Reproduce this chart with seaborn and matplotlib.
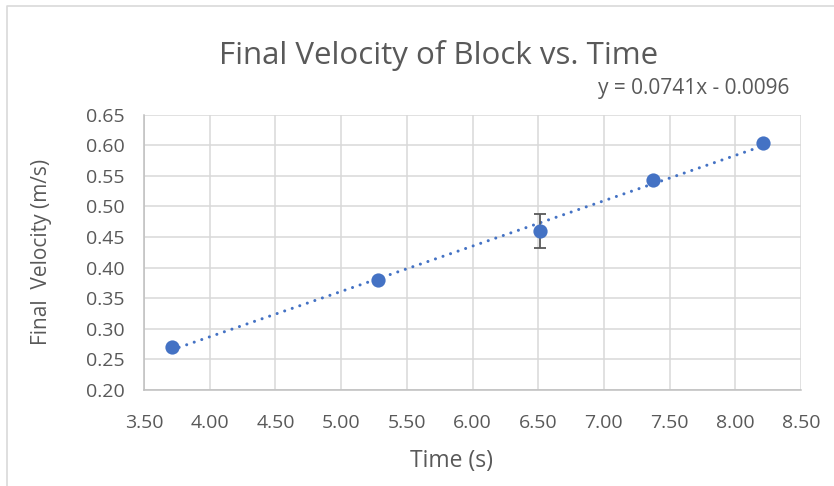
import numpy as np
import pandas as pd
import seaborn as sns
import matplotlib.pyplot as plt
from matplotlib.lines import Line2D

# values
time_s = [3.71, 5.28, 6.51, 7.37, 8.21]
velocity = [0.271, 0.379, 0.460, 0.543, 0.603]
vel_err = [0.0, 0.0, 0.028, 0.0, 0.0]
x_ticks = [3.50, 4.00, 4.50, 5.00, 5.50, 6.00, 6.50, 7.00, 7.50, 8.00, 8.50]
y_ticks = [0.20, 0.25, 0.30, 0.35, 0.40, 0.45, 0.50, 0.55, 0.60, 0.65]
equation = 'y = 0.0741x - 0.0096'

BLUE = '#4472C4'
TXT = '#595959'
GRID = '#d9d9d9'

sns.set_style('white')
plt.rcParams['font.family'] = ['Open Sans', 'DejaVu Sans']

df = pd.DataFrame({'time': time_s, 'vel': velocity, 'err': vel_err})

fig = plt.figure(figsize=(8.34, 4.86), dpi=100)
ax = fig.add_axes([144 / 834, 1 - 390 / 486, 657 / 834, 275.3 / 486])

# linear trendline, dotted
sns.regplot(
    data=df, x='time', y='vel', ax=ax, scatter=False, ci=None, truncate=True,
    line_kws=dict(color=BLUE, lw=2.2, linestyle=(0, (0.01, 2.6)),
                  dash_capstyle='round', zorder=3)
    )

eb = df[df['err'] > 0]
ax.errorbar(
    eb['time'], eb['vel'], yerr=eb['err'], fmt='none', ecolor=TXT,
    elinewidth=1.3, capsize=4.3, capthick=1.3, zorder=4
    )

sns.scatterplot(
    data=df, x='time', y='vel', ax=ax, s=105, color=BLUE,
    edgecolor=BLUE, linewidth=0, zorder=5
    )

ax.set_xlim(3.5, 8.5)
ax.set_ylim(0.2, 0.65)
ax.set_xticks(x_ticks)
ax.set_yticks(y_ticks)
ax.set_xticklabels([f'{t:.2f}' for t in x_ticks])
ax.set_yticklabels([f'{t:.2f}' for t in y_ticks])
ax.grid(True, color=GRID, lw=1.1)
ax.set_axisbelow(True)
for side in ('top', 'right'):
    ax.spines[side].set_visible(False)
for side in ('left', 'bottom'):
    ax.spines[side].set_color('#bfbfbf')
    ax.spines[side].set_linewidth(1.1)
ax.tick_params(axis='both', colors='#bfbfbf', labelcolor=TXT,
               labelsize=14, length=5, width=1.1, direction='out')
ax.tick_params(axis='y', pad=9)
ax.tick_params(axis='x', pad=12)
ax.set_xlabel('')
ax.set_ylabel('')

fig.text(438.5 / 834, 1 - 64 / 486, 'Final Velocity of Block vs. Time',
         ha='center', va='baseline', fontsize=22.5, color=TXT)
fig.text(789 / 834, 1 - 94 / 486, equation,
         ha='right', va='baseline', fontsize=15, color=TXT)
fig.text(451 / 834, 1 - 467 / 486, 'Time (s)',
         ha='center', va='baseline', fontsize=16.5, color=TXT)
fig.text(42 / 834, 1 - 252 / 486, 'Final  Velocity (m/s)',
         ha='center', va='center', rotation=90, fontsize=15, color=TXT)

# chart area border (cut off on the right and bottom)
fig.add_artist(Line2D([7 / 834, 7 / 834, 1], [0, 1 - 6 / 486, 1 - 6 / 486],
                      transform=fig.transFigure, color=GRID, lw=1.2))

fig.savefig('out.png', dpi=100, facecolor='white')
